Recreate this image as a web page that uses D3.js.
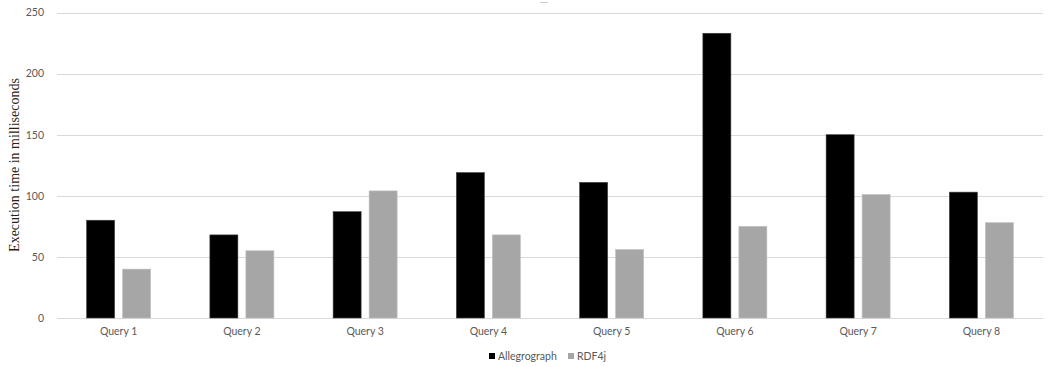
<!DOCTYPE html>
<html><head><meta charset="utf-8">
<script src="https://cdn.jsdelivr.net/npm/d3@7"></script>
<style>body{margin:0;background:#fff}</style>
</head><body>
<svg id="c" width="1051" height="367"></svg>
<script>
const categories = ["Query 1","Query 2","Query 3","Query 4","Query 5","Query 6","Query 7","Query 8"];
const allegrograph = [80, 68, 87, 119, 111, 233, 150, 103];
const rdf4j = [40, 55, 104, 68, 56, 75, 101, 78];
const seriesNames = ["Allegrograph", "RDF4j"];
const seriesColors = ["#000000", "#a6a6a6"];
const yTicks = [0, 50, 100, 150, 200, 250];

const svg = d3.select("#c");
const m = {l: 57, r: 1043, t: 12.5, b: 318};
const x = d3.scaleBand().domain(categories).range([m.l, m.r]);
const y = d3.scaleLinear().domain([0, 250]).range([m.b, m.t]);
const x1 = d3.scaleBand().domain(seriesNames).range([0, 64]).paddingInner(0.2222);

// gridlines
svg.append("g").selectAll("line").data(yTicks).join("line")
  .attr("x1", m.l).attr("x2", m.r)
  .attr("y1", d => Math.round(y(d)) + 0.5).attr("y2", d => Math.round(y(d)) + 0.5)
  .attr("stroke", "#d9d9d9").attr("stroke-width", 1);

// y tick labels
const yAxis = d3.axisLeft(y).tickValues(yTicks).tickSize(0).tickPadding(13);
const ya = svg.append("g").attr("transform", `translate(${m.l},0)`).call(yAxis);
ya.select(".domain").remove();
ya.selectAll("text").attr("fill", "#595959").style("font-family", "Lato, 'Open Sans', sans-serif").style("font-size", "10.5px");

// x labels
const xAxis = d3.axisBottom(x).tickSize(0).tickPadding(10);
const xa = svg.append("g").attr("transform", `translate(0,${m.b})`).call(xAxis);
xa.select(".domain").remove();
xa.selectAll("text").attr("fill", "#595959").style("font-family", "Lato, 'Open Sans', sans-serif").style("font-size", "10.5px");

// bars
const data = categories.map((c, i) => ({c, vals: [allegrograph[i], rdf4j[i]]}));
const groups = svg.append("g").selectAll("g").data(data).join("g")
  .attr("transform", d => `translate(${x(d.c) + x.bandwidth() / 2 - 32},0)`);
groups.selectAll("rect").data(d => d.vals.map((v, j) => ({v, s: seriesNames[j], j}))).join("rect")
  .attr("x", d => x1(d.s))
  .attr("width", x1.bandwidth())
  .attr("y", d => y(d.v))
  .attr("height", d => y(0) - y(d.v))
  .attr("fill", d => seriesColors[d.j])
  .attr("stroke", d => d.j === 0 ? "#404040" : "#bfbfbf")
  .attr("stroke-width", 0.6);

// y axis title
svg.append("text")
  .attr("transform", "translate(19,165) rotate(-90)")
  .attr("text-anchor", "middle")
  .attr("fill", "#2a1f14")
  .style("font-family", "'Liberation Serif', 'DejaVu Serif', serif")
  .style("font-size", "14px")
  .text("Execution time in milliseconds");

// small mark at top
svg.append("line").attr("x1", 540).attr("x2", 548).attr("y1", 2.5).attr("y2", 2.5)
  .attr("stroke", "#d0d0d0").attr("stroke-width", 1);

// legend
const legend = svg.append("g").attr("transform", "translate(489,356)");
const lx = [0, 79];
seriesNames.forEach((s, i) => {
  const g = legend.append("g").attr("transform", `translate(${lx[i]},0)`);
  g.append("rect").attr("x", 0).attr("y", -3).attr("width", 6).attr("height", 6).attr("fill", seriesColors[i]);
  g.append("text").attr("x", 9).attr("y", 0).attr("dy", "0.35em")
    .attr("fill", "#595959")
    .style("font-family", "Lato, 'Open Sans', sans-serif").style("font-size", "10.5px")
    .text(s);
});
</script>
</body></html>
